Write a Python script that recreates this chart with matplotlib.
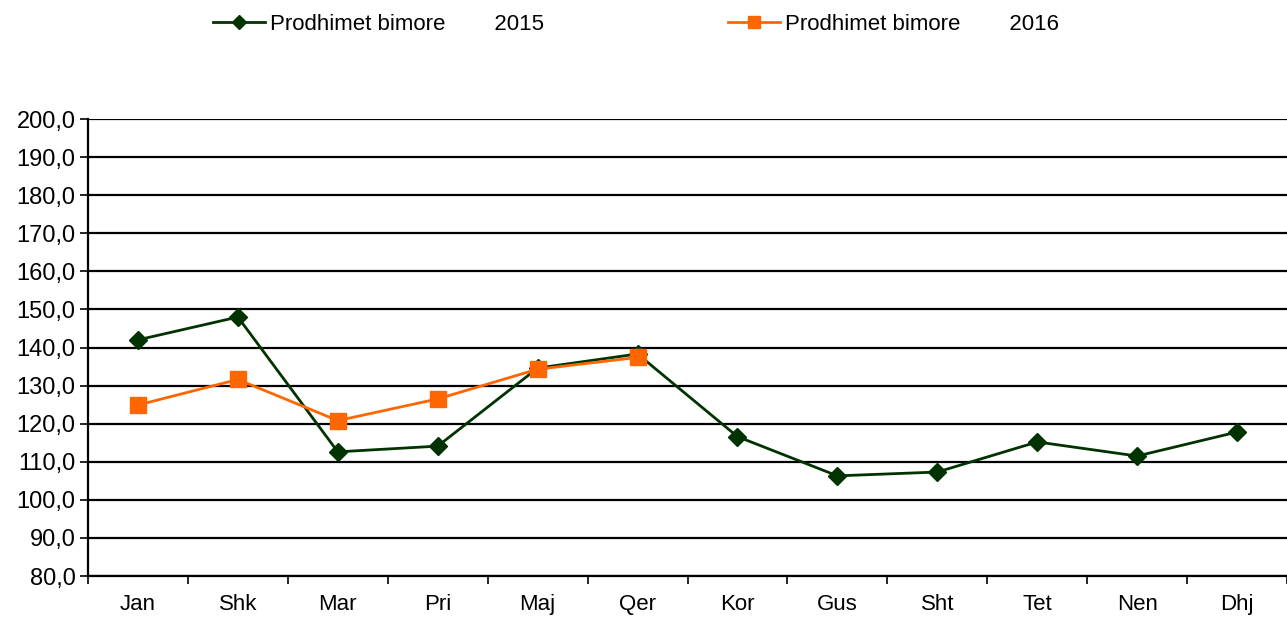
import matplotlib.pyplot as plt
from matplotlib.ticker import FixedLocator, FuncFormatter

plt.rcParams['font.family'] = ['Liberation Sans', 'DejaVu Sans']

months = ['Jan', 'Shk', 'Mar', 'Pri', 'Maj', 'Qer', 'Kor', 'Gus', 'Sht', 'Tet', 'Nen', 'Dhj']
prod_2015 = [142.0, 148.0, 112.6, 114.1, 134.6, 138.3, 116.6, 106.3, 107.3, 115.2, 111.5, 117.8]
prod_2016 = [124.9, 131.6, 120.8, 126.5, 134.3, 137.4]
labels = ['Prodhimet bimore        2015', 'Prodhimet bimore        2016']

fig = plt.figure(figsize=(12.87, 6.17), dpi=100)
ax = fig.add_axes([88 / 1287, 1 - 576 / 617, 1 - 88 / 1287, (576 - 119) / 617])

x15 = list(range(len(prod_2015)))
x16 = list(range(len(prod_2016)))
l1, = ax.plot(x15, prod_2015, color='#003300', lw=2, marker='D', ms=9,
              markerfacecolor='#003300', markeredgecolor='#003300', zorder=3)
l2, = ax.plot(x16, prod_2016, color='#FF6600', lw=2, marker='s', ms=11,
              markerfacecolor='#FF6600', markeredgecolor='#FF6600', zorder=4)

ax.set_xlim(-0.5, len(months) - 0.5)
ax.set_ylim(80, 200)

ax.set_yticks(range(80, 201, 10))
ax.yaxis.set_major_formatter(FuncFormatter(lambda v, p: f'{v:.1f}'.replace('.', ',')))
ax.yaxis.grid(True, color='black', lw=1.6)
ax.set_axisbelow(True)

ax.set_xticks(range(len(months)))
ax.set_xticklabels(months)
ax.xaxis.set_minor_locator(FixedLocator([i + 0.5 for i in range(-1, len(months))]))
ax.tick_params(axis='x', which='major', length=0, pad=13, labelsize=16)
ax.tick_params(axis='x', which='minor', length=6, width=1.2, color='black')
ax.tick_params(axis='y', length=6, width=1.2, labelsize=17, pad=3)

for s in ['top', 'right']:
    ax.spines[s].set_visible(False)
ax.spines['left'].set_linewidth(1.6)
ax.spines['bottom'].set_linewidth(1.6)

fig.legend([l1, l2], labels, loc='center left', bbox_to_anchor=(213 / 1287, 1 - 24 / 617),
           ncol=2, frameon=False, fontsize=16, handlelength=2.35, handletextpad=0.2,
           columnspacing=8.3, borderaxespad=0, borderpad=0, markerscale=0.75)

fig.savefig('out.png', dpi=100)
